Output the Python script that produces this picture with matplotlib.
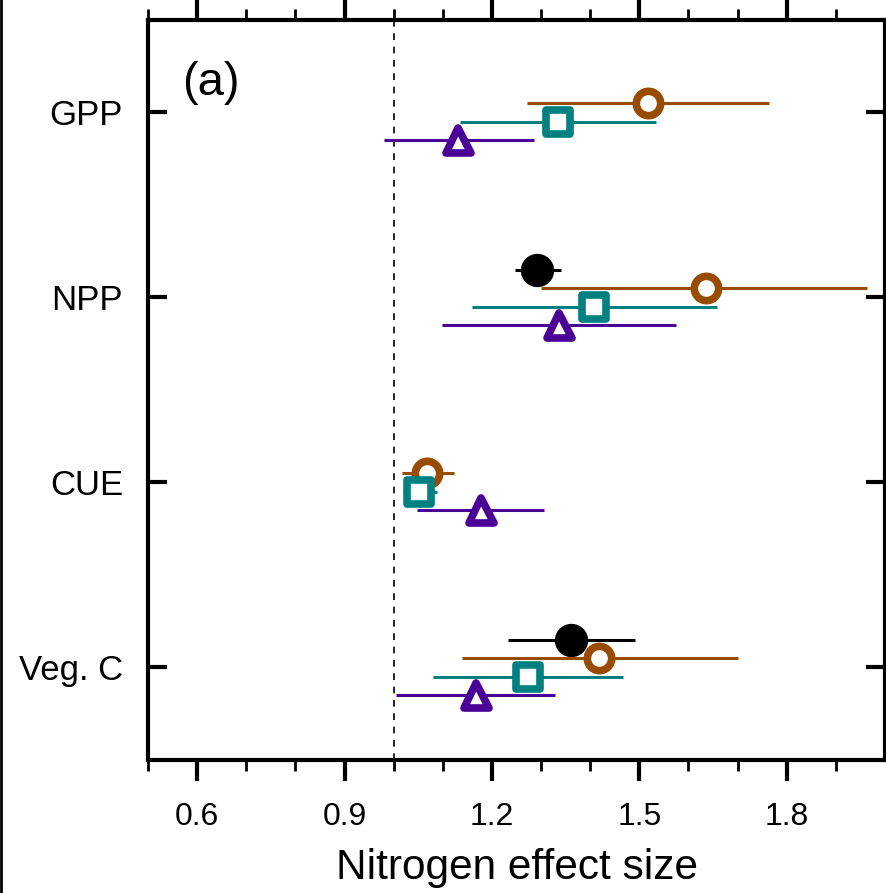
import numpy as np
import matplotlib.pyplot as plt
from matplotlib.lines import Line2D
from matplotlib.markers import MarkerStyle

plt.rcParams['font.family'] = ['Liberation Sans', 'DejaVu Sans']

cats = ['GPP', 'NPP', 'CUE', 'Veg. C']

# series: mean, low, high (nan = missing)
obs_mean = [np.nan, 1.291, np.nan, 1.360]
obs_lo = [np.nan, 1.246, np.nan, 1.232]
obs_hi = [np.nan, 1.340, np.nan, 1.492]

circ_mean = [1.517, 1.635, 1.067, 1.417]
circ_lo = [1.271, 1.299, 1.017, 1.139]
circ_hi = [1.763, 1.964, 1.122, 1.700]

sq_mean = [1.334, 1.407, 1.051, 1.273]
sq_lo = [1.135, 1.159, 1.019, 1.080]
sq_hi = [1.533, 1.659, 1.088, 1.466]

tri_mean = [1.130, 1.336, 1.177, 1.167]
tri_lo = [0.980, 1.098, 1.047, 1.004]
tri_hi = [1.285, 1.574, 1.305, 1.328]

series = [
    (obs_mean, obs_lo, obs_hi, -0.15, 'o', 'black', True, 24),
    (circ_mean, circ_lo, circ_hi, -0.05, 'o', '#984C00', False, 17.5),
    (sq_mean, sq_lo, sq_hi, 0.05, 's', '#008080', False, 17),
    (tri_mean, tri_lo, tri_hi, 0.15, '^', '#4B0096', False, 18),
]

fig = plt.figure(figsize=(8.87, 8.93), dpi=100)
ax = fig.add_axes([0.1669, 0.149, 0.8308, 0.8286])

ypos = np.arange(1, len(cats) + 1)
ax.axvline(1.0, color='black', lw=1.2, ls=(0, (4, 4)), zorder=1)

for mean, lo, hi, off, mk, col, filled, ms in series:
    mean = np.array(mean)
    lo = np.array(lo)
    hi = np.array(hi)
    y = ypos + off
    ax.hlines(y, lo, hi, color=col, lw=2.2, zorder=2)
    ax.plot(mean, y, ls='none', marker=MarkerStyle(mk, joinstyle='round'),
            ms=ms, mfc=col if filled else 'white', mec=col,
            mew=0 if filled else 5.5, zorder=3)

ax.set_xlim(0.5, 2.0)
ax.set_ylim(4.5, 0.5)
ax.set_yticks(ypos)
ax.set_yticklabels(cats, fontsize=25)
ax.set_xticks([0.6, 0.9, 1.2, 1.5, 1.8])
ax.set_xticklabels(['0.6', '0.9', '1.2', '1.5', '1.8'], fontsize=23)
ax.set_xticks(np.arange(0.5, 2.0, 0.1), minor=True)
ax.tick_params(axis='x', which='major', direction='out', length=15, width=3,
               top=True, bottom=True, pad=15)
ax.tick_params(axis='x', which='minor', direction='out', length=8, width=2,
               top=True, bottom=True)
ax.tick_params(axis='y', which='major', direction='in', length=14, width=3,
               left=True, right=True, pad=18)
for s in ax.spines.values():
    s.set_linewidth(3)

ax.set_xlabel('Nitrogen effect size', fontsize=30.5, labelpad=12)
ax.text(0.046, 0.899, '(a)', transform=ax.transAxes, fontsize=34,
        va='baseline')

fig.add_artist(Line2D([0.001, 0.001], [0, 1], color='black', lw=2,
                      transform=fig.transFigure))

fig.savefig('out.png', dpi=100)
